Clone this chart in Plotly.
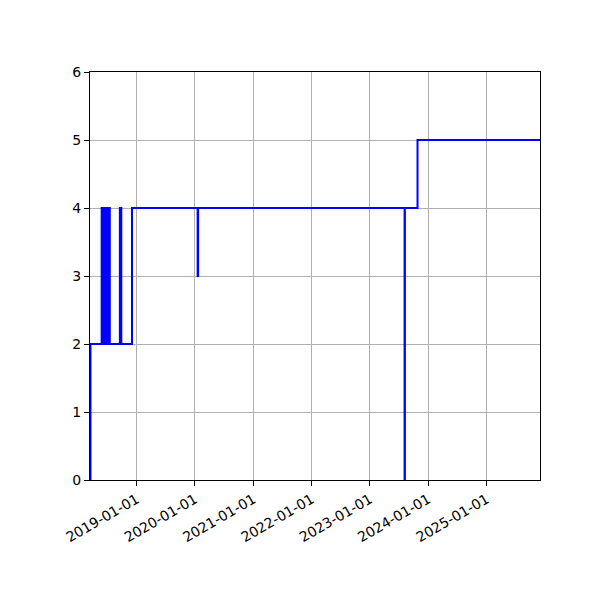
import plotly.graph_objects as go

dates = [
    "2018-03-15", "2018-03-18",
    "2018-05-27", "2018-06-03",
    "2018-06-08", "2018-06-09", "2018-06-10", "2018-06-11", "2018-06-12",
    "2018-06-13", "2018-06-14", "2018-06-15", "2018-06-16", "2018-06-17",
    "2018-06-18", "2018-06-19", "2018-06-20", "2018-06-21", "2018-06-22",
    "2018-06-23", "2018-06-24", "2018-06-25", "2018-06-26", "2018-06-27",
    "2018-06-28", "2018-06-29", "2018-06-30", "2018-07-01", "2018-07-02",
    "2018-07-03", "2018-07-04", "2018-07-05", "2018-07-06", "2018-07-07",
    "2018-07-08", "2018-07-09", "2018-07-10", "2018-07-11", "2018-07-12",
    "2018-07-13", "2018-07-14", "2018-07-15", "2018-07-16", "2018-07-17",
    "2018-09-18", "2018-09-27",
    "2018-12-03",
    "2020-01-18", "2020-01-21",
    "2023-08-06", "2023-08-08",
    "2023-10-26",
    "2025-12-01",
]
values = [
    0, 2,
    4, 2,
    4, 2, 4, 2, 4,
    2, 4, 2, 4, 2,
    4, 2, 4, 2, 4,
    2, 4, 2, 4, 2,
    4, 2, 4, 2, 4,
    2, 4, 2, 4, 2,
    4, 2, 4, 2, 4,
    2, 4, 2, 4, 2,
    4, 2,
    4,
    3, 4,
    0, 4,
    5,
    5,
]

tick_dates = ["2019-01-01", "2020-01-01", "2021-01-01", "2022-01-01",
              "2023-01-01", "2024-01-01", "2025-01-01"]
y_ticks = [0, 1, 2, 3, 4, 5, 6]

fig = go.Figure()
fig.add_trace(go.Scatter(
    x=dates, y=values, mode="lines", line_shape="hv",
    line=dict(color="#0000ff", width=2), showlegend=False,
))

axis_common = dict(
    showline=True, linecolor="black", linewidth=1.1, mirror=True,
    ticks="outside", ticklen=5, tickwidth=1.1, tickcolor="black",
    showgrid=True, gridcolor="#b0b0b0", gridwidth=1,
    zeroline=False,
    tickfont=dict(family="DejaVu Sans", size=14, color="black"),
)

fig.update_xaxes(
    type="date", range=["2018-03-15", "2025-12-01"],
    tickvals=tick_dates, ticktext=tick_dates, tickangle=-30,
    **axis_common,
)
fig.update_yaxes(
    range=[0, 6], tickvals=y_ticks, ticktext=[str(v) for v in y_ticks],
    **axis_common,
)

fig.update_layout(
    width=600, height=600,
    margin=dict(l=82, r=68, t=64, b=128),
    paper_bgcolor="white", plot_bgcolor="white",
    font=dict(family="DejaVu Sans", size=14, color="black"),
)

fig.write_html("out.html")
